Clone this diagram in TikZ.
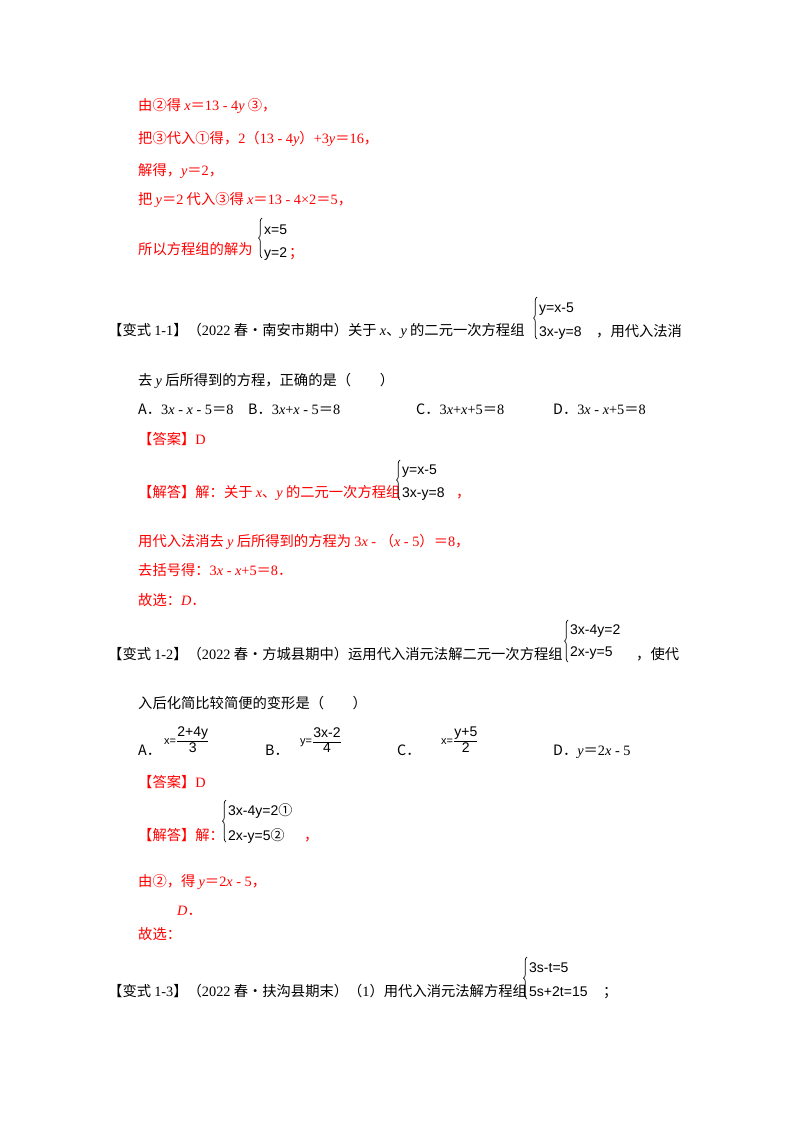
\documentclass[tikz,border=0pt]{standalone}
\usepackage{fontspec}
\setmainfont{Noto Sans CJK SC}
\newfontfamily\lat{Liberation Serif}
\newfontfamily\eqf{Liberation Sans}
\usetikzlibrary{decorations.pathreplacing}
\newcommand{\vv}[1]{{\lat\itshape #1}}
\newcommand{\nn}[1]{{\lat #1}}
\newcommand{\fr}[2]{$\displaystyle\frac{\hbox{\eqf\fontsize{14}{14}\selectfont #1}}{\hbox{\eqf\fontsize{14}{14}\selectfont #2}}$}
\definecolor{ans}{RGB}{255,0,0}
\begin{document}
\begin{tikzpicture}[x=1pt,y=-1pt,
  t/.style={anchor=base west,inner sep=0pt,font=\fontsize{14.3}{14.3}\selectfont},
  r/.style={t,text=ans},
  eq/.style={anchor=base west,inner sep=0pt,font=\eqf\fontsize{14}{14}\selectfont},
  fq/.style={anchor=west,inner sep=0pt,font=\eqf\fontsize{11}{11}\selectfont},
  br/.style={decorate,decoration={brace,amplitude=3.5pt},line width=0.7pt}]
\useasboundingbox[fill=white] (0,0) rectangle (800,1132);
% top solution
\node[r] (l1) at (138,110) {由②得 \vv{x}＝\nn{13 - 4}\vv{y} ③，};
\node[r] (l2) at (138,143) {把③代入①得，\nn{2}（\nn{13 - 4}\vv{y}）\nn{+3}\vv{y}＝\nn{16}，};
\node[r] (l3) at (138,175) {解得，\vv{y}＝\nn{2}，};
\node[r] (l4) at (138,204) {把 \vv{y}＝\nn{2} 代入③得 \vv{x}＝\nn{13 - 4×2}＝\nn{5}，};
\node[r] (l5) at (138,254) {所以方程组的解为};
\draw[br] (262,258) -- (262,218);
\node[eq] (l5a) at (264,234) {x=5};
\node[eq] (l5b) at (264,257) {y=2};
\node[r] (l5c) at (289,257) {；};
% 1-1
\node[t] (v1) at (108,335) {【变式 \nn{1-1}】（\nn{2022} 春•南安市期中）关于 \vv{x}、\vv{y} 的二元一次方程组};
\draw[br] (537,339) -- (537,297);
\node[eq] (v1a) at (539,312) {y=x-5};
\node[eq] (v1b) at (539,336) {3x-y=8};
\node[t] (v1c) at (596,336) {，用代入法消};
\node[t] (v1d) at (138,385) {去 \vv{y} 后所得到的方程，正确的是（　　）};
\node[t] (o1) at (138,414) {A．\nn{3}\vv{x}\nn{ - }\vv{x}\nn{ - 5}＝\nn{8}};
\node[t] (o2) at (248,414) {B．\nn{3}\vv{x}\nn{+}\vv{x}\nn{ - 5}＝\nn{8}};
\node[t] (o3) at (416,414) {C．\nn{3}\vv{x}\nn{+}\vv{x}\nn{+5}＝\nn{8}};
\node[t] (o4) at (553,414) {D．\nn{3}\vv{x}\nn{ - }\vv{x}\nn{+5}＝\nn{8}};
\node[r] (a1) at (138,444) {【答案】\nn{D}};
\node[r] (s1) at (138,497) {【解答】解：关于 \vv{x}、\vv{y} 的二元一次方程组};
\draw[br] (400,500) -- (400,460);
\node[eq] (s1a) at (402,474) {y=x-5};
\node[eq] (s1b) at (402,497) {3x-y=8};
\node[r] (s1c) at (456,497) {，};
\node[r] (s2) at (138,546) {用代入法消去 \vv{y} 后所得到的方程为 \nn{3}\vv{x}\nn{ - }（\vv{x}\nn{ - 5}）＝\nn{8}，};
\node[r] (s3) at (138,575) {去括号得：\nn{3}\vv{x}\nn{ - }\vv{x}\nn{+5}＝\nn{8}．};
\node[r] (s4) at (138,605) {故选：\vv{D}．};
% 1-2
\node[t] (v2) at (108,659) {【变式 \nn{1-2}】（\nn{2022} 春•方城县期中）运用代入消元法解二元一次方程组};
\draw[br] (568,662) -- (568,620);
\node[eq] (v2a) at (570,634) {3x-4y=2};
\node[eq] (v2b) at (570,656) {2x-y=5};
\node[t] (v2c) at (636,659) {，使代};
\node[t] (v2d) at (138,708) {入后化简比较简便的变形是（　　）};
\node[t] (p1) at (138,755) {A．};
\node[fq] (p1f) at (164,740) {x=\fr{2+4y}{3}};
\node[t] (p2) at (265,755) {B．};
\node[fq] (p2f) at (300,740) {y=\fr{3x-2}{4}};
\node[t] (p3) at (397,755) {C．};
\node[fq] (p3f) at (441,740) {x=\fr{y+5}{2}};
\node[t] (p4) at (553,755) {D．\vv{y}＝\nn{2}\vv{x}\nn{ - 5}};
\node[r] (a2) at (138,787) {【答案】\nn{D}};
\node[r] (s5) at (138,840) {【解答】解：};
\draw[br] (226,842) -- (226,800);
\node[eq] (s5a) at (228,815) {3x-4y=2{\rmfamily ①}};
\node[eq] (s5b) at (228,840) {2x-y=5{\rmfamily ②}};
\node[r] (s5c) at (304,840) {，};
\node[r] (s6) at (138,886) {由②，得 \vv{y}＝\nn{2}\vv{x}\nn{ - 5}，};
\node[r] (s7) at (177,915) {\vv{D}．};
\node[r] (s8) at (138,939) {故选：};
% 1-3
\node[t] (v3) at (108,996) {【变式 \nn{1-3}】（\nn{2022} 春•扶沟县期末）（\nn{1}）用代入消元法解方程组};
\draw[br] (527,999) -- (527,957);
\node[eq] (v3a) at (529,972) {3s-t=5};
\node[eq] (v3b) at (529,996) {5s+2t=15};
\node[t] (v3c) at (603,996) {；};
\end{tikzpicture}
\end{document}
